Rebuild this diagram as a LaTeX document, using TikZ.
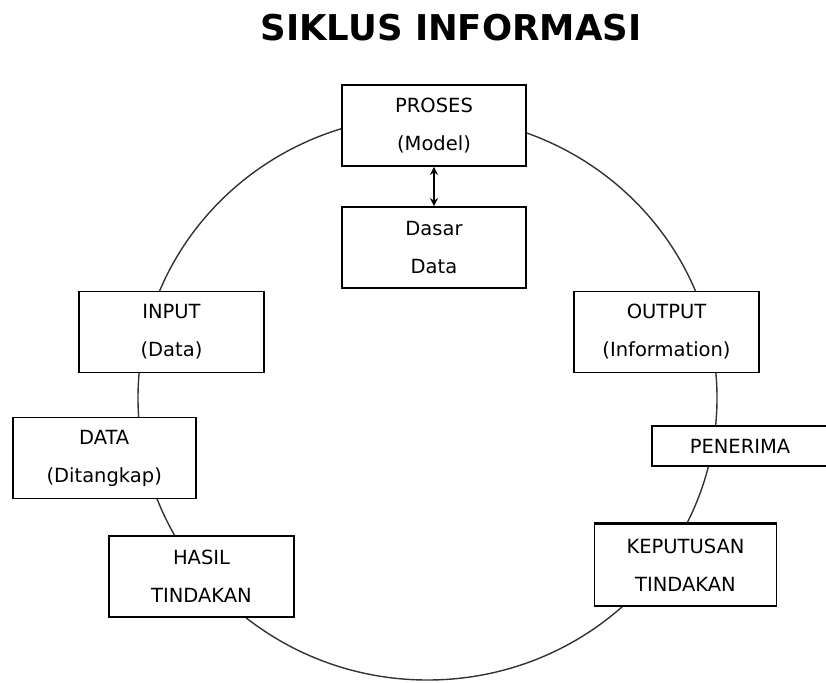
\documentclass[tikz,border=0pt]{standalone}
\usepackage{fontspec}
\setmainfont{DejaVu Sans}
\usetikzlibrary{arrows.meta,positioning}
\tikzset{
  kotak/.style={draw,fill=white,line width=1.8pt,minimum width=184pt,minimum height=81pt,
    inner sep=0pt,align=center,font=\fontsize{19.5}{38}\selectfont},
}
\begin{document}
\begin{tikzpicture}[x=1pt,y=-1pt]
		\useasboundingbox (0,0) rectangle (826,682);
		% Judul
		\node (judul) at (451,28) {\fontsize{35.5}{40}\selectfont\bfseries SIKLUS INFORMASI};
		% Lingkaran siklus
		\draw[line width=1.4pt,black!80] (427.5,398) ellipse [x radius=289.5,y radius=282];
		% Kotak-kotak
		\node[kotak] (proses) at (434,125.5) {PROSES\\(Model)};
		\node[kotak] (dasar) at (434,247.5) {Dasar\\Data};
		\node[kotak,minimum width=185pt] (input) at (171.5,332) {INPUT\\(Data)};
		\node[kotak,minimum width=185pt] (output) at (666.5,332) {OUTPUT\\(Information)};
		\node[kotak,minimum width=183pt] (data) at (104.2,458) {DATA\\(Ditangkap)};
		\node[kotak,minimum width=176pt,minimum height=40pt] (penerima) at (740,446) {PENERIMA};
		\node[kotak,minimum width=185pt] (hasil) at (201.5,576.5) {HASIL\\TINDAKAN};
		\node[kotak,minimum width=182pt,minimum height=82pt] (keputusan) at (685.5,565) {KEPUTUSAN\\TINDAKAN};
		\draw[line width=3pt] (keputusan.north west) -- (keputusan.north east);
		% Panah dua arah
		\draw[{Stealth[length=8pt,width=8pt]}-{Stealth[length=8pt,width=8pt]},line width=1.8pt] (proses) -- (dasar);
\end{tikzpicture}
\end{document}
